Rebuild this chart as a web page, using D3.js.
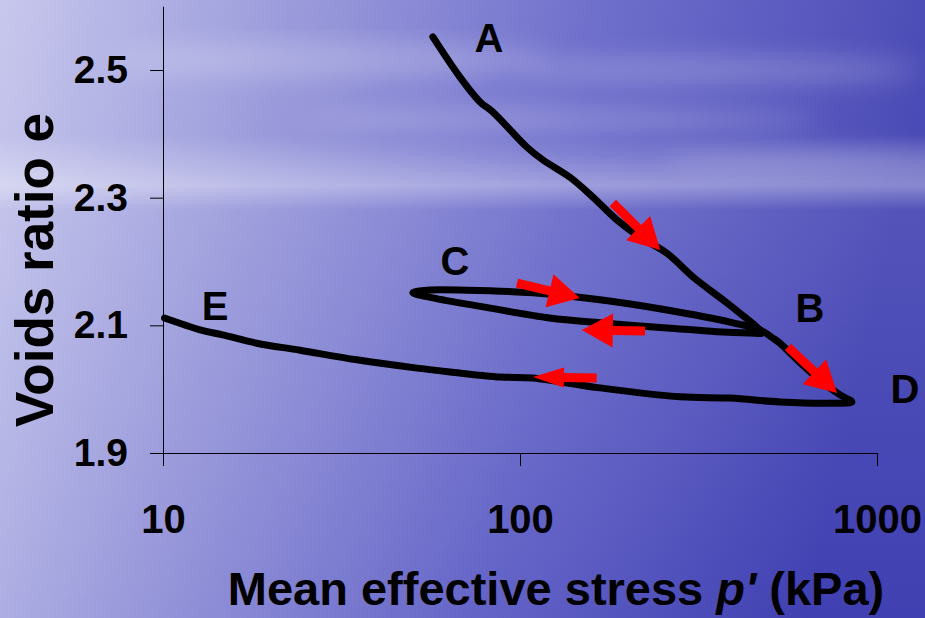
<!DOCTYPE html>
<html lang="en">
<head>
    <meta charset="UTF-8">
    <title>Voids ratio vs mean effective stress</title>
    <style>
        body{
            margin: 0;
            font-family: "Liberation Sans", Arial, Helvetica, sans-serif;
        }
        svg{
            display: block;
        }
        .axis path, .axis line{
            stroke: black;
            stroke-width: 1px;
            fill: none;
        }
        .axis text{
            font-family: "Liberation Sans", Arial, sans-serif;
            font-weight: bold;
            fill: black;
        }
        .curve{
            fill: none;
            stroke: black;
            stroke-width: 7px;
            stroke-linejoin: round;
            stroke-linecap: round;
        }
        .arrow{
            fill: #ff0000;
        }
        .pt-label{
            font-weight: bold;
            font-size: 40px;
            text-anchor: middle;
        }
        .title{
            font-weight: bold;
            text-anchor: middle;
        }
    </style>
    <script src="https://d3js.org/d3.v7.min.js"></script>
</head>
<body>
    <script>
        // stress path A -> B -> C -> B -> D -> E
        var pathP = [57, 67.9, 77.3, 84, 104.6, 116, 138, 160, 187, 217, 258, 305, 370, 413, 461, 476,
                     441, 356, 258, 167.5, 121, 78.8, 57, 50.1,
                     54.9, 71, 108.7, 167.5, 258, 395, 470,
                     511, 535, 597, 692, 788, 851,
                     738, 535, 387, 281, 167.5, 108.7, 88, 63.7, 51.5, 34.9, 24.2, 18.3, 14.7, 12.7, 10.1];
        var pathE = [2.552, 2.489, 2.450, 2.434, 2.379, 2.359, 2.332, 2.301, 2.265, 2.238, 2.213, 2.176, 2.140, 2.119, 2.097, 2.088,
                     2.088, 2.090, 2.096, 2.104, 2.1115, 2.129, 2.143, 2.151,
                     2.155, 2.155, 2.151, 2.140, 2.124, 2.104, 2.093,
                     2.080, 2.072, 2.046, 2.014, 1.991, 1.980,
                     1.978, 1.980, 1.986, 1.988, 2.002, 2.0175, 2.019, 2.027, 2.033, 2.046, 2.061, 2.072, 2.085, 2.093, 2.1115];

        // red arrows: tail and tip
        var arrowFromP = [182, 98.1, 224, 164, 563];
        var arrowFromE = [2.2917, 2.1663, 2.091, 2.0175, 2.066];
        var arrowToP = [247, 147, 149, 108.7, 773];
        var arrowToE = [2.218, 2.1428, 2.0927, 2.019, 1.994];

        var labelText = ["A", "B", "C", "D", "E"];
        var labelP = [81.8, 649, 65.7, 1198, 14.0];
        var labelE = [2.528, 2.105, 2.179, 1.978, 2.108];

        var xTicks = [10, 100, 1000];
        var yTicks = [1.9, 2.1, 2.3, 2.5];

        var W = 925, H = 618;
        var svg = d3.select("body").append("svg")
                    .attr("width", W)
                    .attr("height", H);

        // background: sky and sea
        var defs = svg.append("defs");
        var hg = defs.append("linearGradient").attr("id", "hg")
                    .attr("x1", "0").attr("y1", "0").attr("x2", "1").attr("y2", "0.15");
        hg.append("stop").attr("offset", "0").attr("stop-color", "#c4c4ec");
        hg.append("stop").attr("offset", "0.3").attr("stop-color", "#9696da");
        hg.append("stop").attr("offset", "0.65").attr("stop-color", "#6464c8");
        hg.append("stop").attr("offset", "1").attr("stop-color", "#4040b2");
        var vg = defs.append("linearGradient").attr("id", "vg")
                    .attr("x1", "0").attr("y1", "0").attr("x2", "0").attr("y2", "1");
        vg.append("stop").attr("offset", "0").attr("stop-color", "white").attr("stop-opacity", 0.06);
        vg.append("stop").attr("offset", "0.22").attr("stop-color", "white").attr("stop-opacity", 0.06);
        vg.append("stop").attr("offset", "0.3").attr("stop-color", "white").attr("stop-opacity", 0.38);
        vg.append("stop").attr("offset", "0.34").attr("stop-color", "white").attr("stop-opacity", 0.1);
        vg.append("stop").attr("offset", "1").attr("stop-color", "white").attr("stop-opacity", 0);
        defs.append("filter").attr("id", "blur")
            .append("feGaussianBlur").attr("stdDeviation", 12);

        svg.append("rect").attr("width", W).attr("height", H).attr("fill", "url(#hg)");
        svg.append("rect").attr("width", W).attr("height", H).attr("fill", "url(#vg)");
        var clouds = svg.append("g").attr("filter", "url(#blur)").attr("fill", "white").attr("opacity", 0.2);
        clouds.append("ellipse").attr("cx", 330).attr("cy", 60).attr("rx", 220).attr("ry", 18);
        clouds.append("ellipse").attr("cx", 720).attr("cy", 70).attr("rx", 200).attr("ry", 14);
        clouds.append("ellipse").attr("cx", 560).attr("cy", 120).attr("rx", 260).attr("ry", 12);
        clouds.append("ellipse").attr("cx", 820).attr("cy", 160).attr("rx", 160).attr("ry", 10);

        var x = d3.scaleLog().domain([10, 1000]).range([163, 877]);
        var y = d3.scaleLinear().domain([1.9, 2.6]).range([453, 6.2]);

        var xAxis = svg.append("g")
                    .attr("class", "axis")
                    .attr("transform", "translate(0,453)")
                    .call(d3.axisBottom(x).tickValues(xTicks).tickFormat(d3.format("d"))
                          .tickSizeInner(13).tickSizeOuter(0).tickPadding(39));
        xAxis.selectAll("text").style("font-size", "40px");

        var yAxis = svg.append("g")
                    .attr("class", "axis")
                    .attr("transform", "translate(163,0)")
                    .call(d3.axisLeft(y).tickValues(yTicks).tickFormat(d3.format(".1f"))
                          .tickSizeInner(13).tickSizeOuter(0).tickPadding(22));
        yAxis.selectAll("text").style("font-size", "39px");

        // the path
        var pts = pathP.map(function(p, i){ return [p, pathE[i]]; });
        var line = d3.line()
                    .x(function(d){ return x(d[0]); })
                    .y(function(d){ return y(d[1]); })
                    .curve(d3.curveCatmullRom.alpha(0.5));
        svg.append("path")
            .attr("class", "curve")
            .attr("d", line(pts));

        // arrows
        for(var i=0; i<arrowFromP.length; i++){
            var x0 = x(arrowFromP[i]), y0 = y(arrowFromE[i]);
            var x1 = x(arrowToP[i]), y1 = y(arrowToE[i]);
            var len = Math.sqrt((x1-x0)*(x1-x0) + (y1-y0)*(y1-y0));
            var ang = Math.atan2(y1-y0, x1-x0) * 180 / Math.PI;
            var headL = 31, headW = (i == 3) ? 10 : 17, shaftW = 4.5;
            var g = svg.append("g")
                    .attr("transform", "translate(" + x0 + "," + y0 + ") rotate(" + ang + ")");
            g.append("path")
                .attr("class", "arrow")
                .attr("d", "M0," + (-shaftW) + "L" + (len-headL) + "," + (-shaftW)
                         + "L" + (len-headL) + "," + (-headW) + "L" + len + ",0"
                         + "L" + (len-headL) + "," + headW + "L" + (len-headL) + "," + shaftW
                         + "L0," + shaftW + "Z");
        }

        // point labels
        for(i=0; i<labelText.length; i++){
            svg.append("text")
                .attr("class", "pt-label")
                .attr("x", x(labelP[i]))
                .attr("y", y(labelE[i]))
                .text(labelText[i]);
        }

        // axis titles
        var xt = svg.append("text")
                    .attr("class", "title")
                    .attr("x", 556)
                    .attr("y", 605)
                    .style("font-size", "47px");
        xt.append("tspan").text("Mean effective stress ");
        xt.append("tspan").style("font-style", "italic").text("p'");
        xt.append("tspan").text(" (kPa)");

        svg.append("text")
            .attr("class", "title")
            .attr("transform", "translate(53,270) rotate(-90)")
            .style("font-size", "53px")
            .text("Voids ratio e");
    </script>
</body>
</html>
